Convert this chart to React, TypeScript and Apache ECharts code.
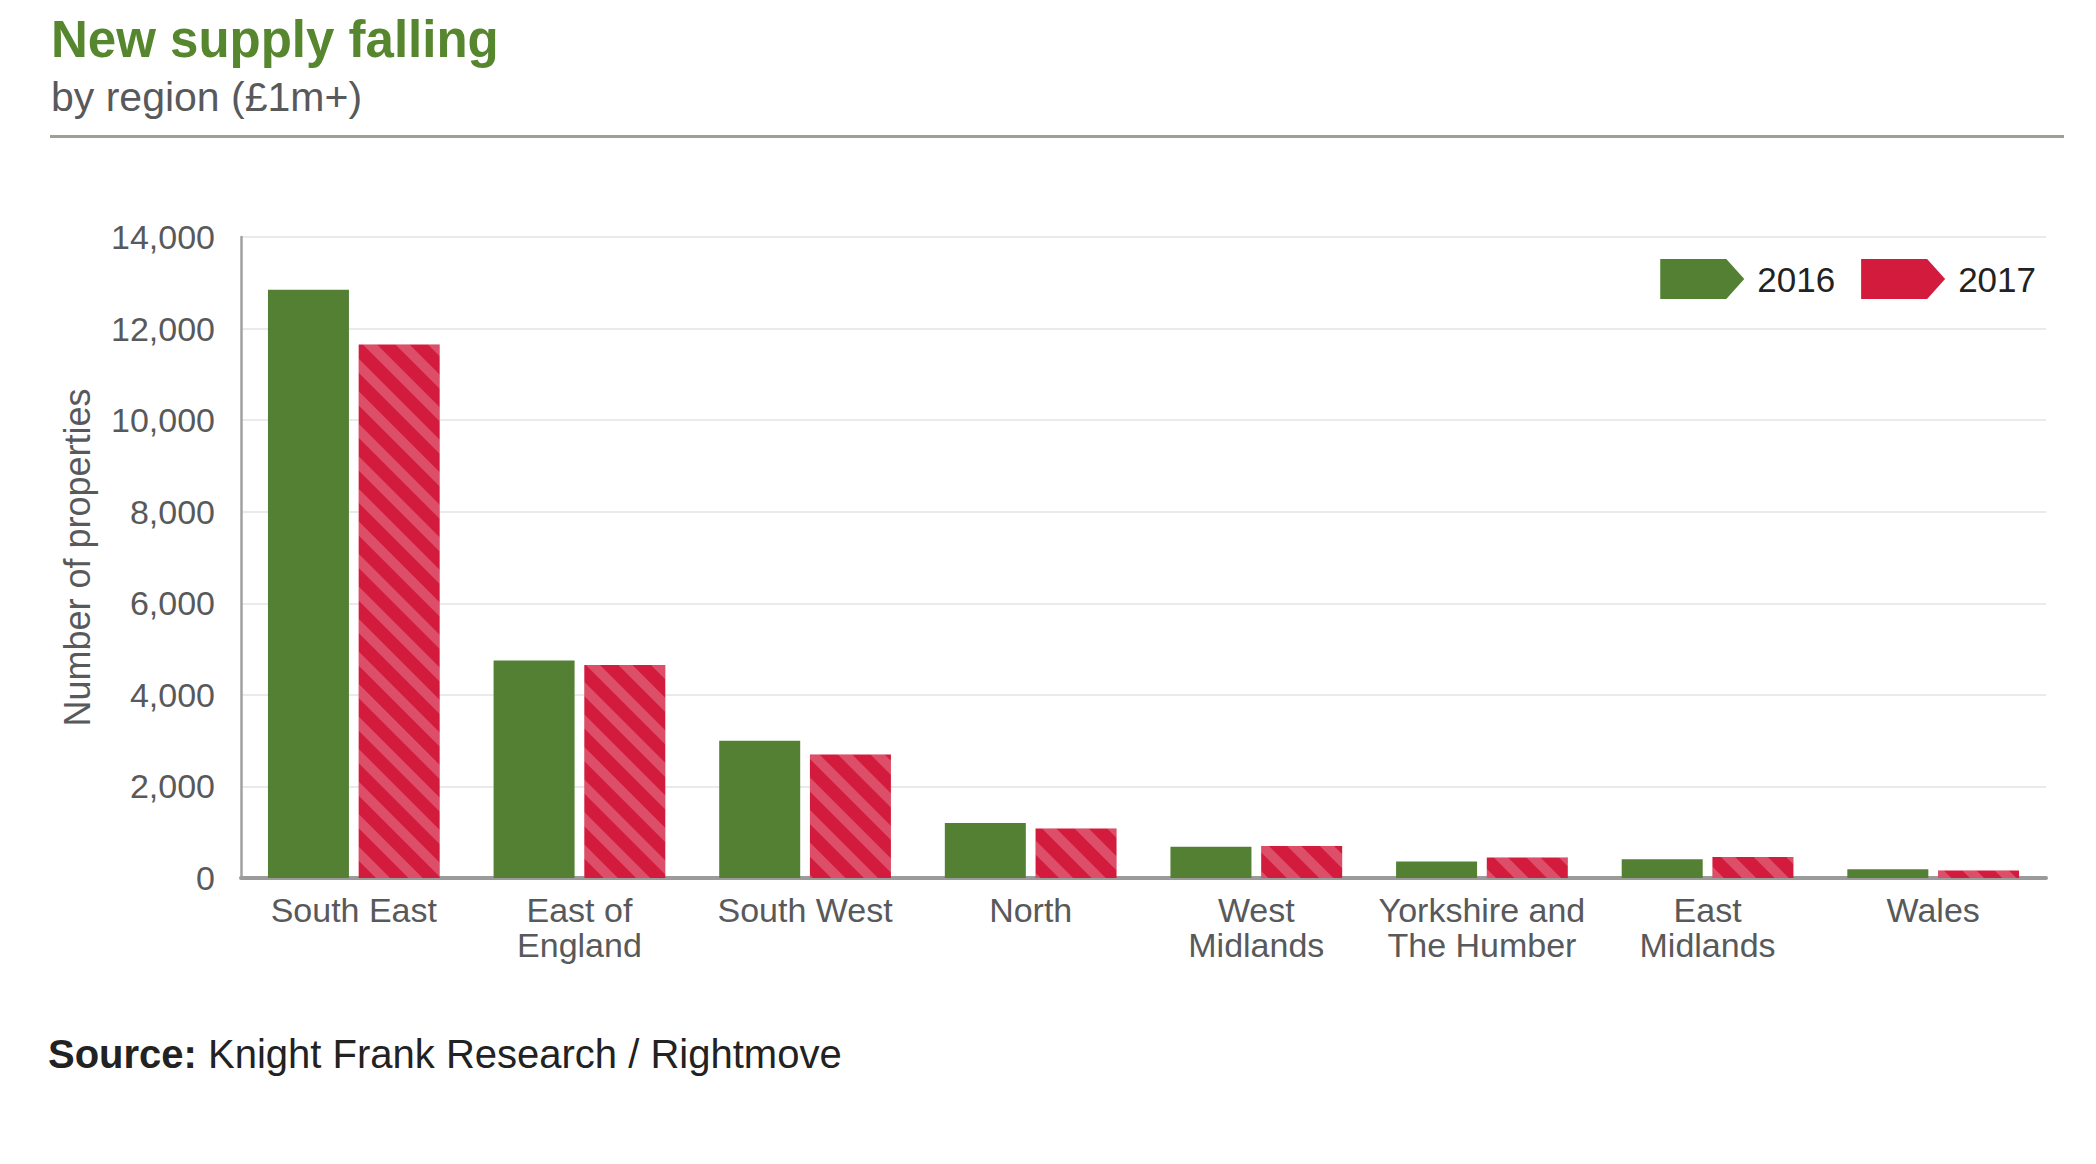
import React, { useEffect, useRef } from "react";
import * as echarts from "echarts";

const categories = [
  "South East",
  "East of\nEngland",
  "South West",
  "North",
  "West\nMidlands",
  "Yorkshire and\nThe Humber",
  "East\nMidlands",
  "Wales",
];
const seriesNames = ["2016", "2017"];
const values2016 = [12850, 4750, 3000, 1200, 680, 360, 410, 190];
const values2017 = [11650, 4650, 2700, 1080, 700, 450, 460, 165];
const yMin = 0;
const yMax = 14000;
const yInterval = 2000;

const titleText = "New supply falling";
const subtitleText = "by region (£1m+)";
const yAxisName = "Number of properties";
const sourceLabel = "Source:";
const sourceText = "Knight Frank Research / Rightmove";

const FONT = '"Liberation Sans", Arial, Helvetica, sans-serif';
const GREEN = "#548034";
const RED = "#D31C3D";
const LABEL = "#58595B";

export default function App() {
  const ref = useRef<HTMLDivElement>(null);
  useEffect(() => {
    if (!ref.current) return;
    const chart = echarts.init(ref.current, null, { renderer: "svg" });
    const option: any = {
      animation: false,
      backgroundColor: "#ffffff",
      textStyle: { fontFamily: FONT },
      grid: { left: 241, right: 50, top: 237, bottom: 286, containLabel: false },
      legend: {
        right: 60,
        top: 259,
        padding: 0,
        itemWidth: 84,
        itemHeight: 40,
        itemGap: 26,
        icon: "path://M0,0 L66,0 L84,20 L66,40 L0,40 Z",
        itemStyle: { decal: "none", borderWidth: 0 },
        textStyle: { color: "#222222", fontSize: 35, fontFamily: FONT, padding: [6, 0, 0, 8] },
        data: seriesNames,
      },
      xAxis: {
        type: "category",
        data: categories,
        axisLine: { show: true, lineStyle: { color: "#9B9B9B", width: 4 } },
        axisTick: { show: false },
        axisLabel: {
          interval: 0,
          margin: 14,
          color: LABEL,
          fontSize: 34,
          lineHeight: 35,
          fontFamily: FONT,
        },
      },
      yAxis: {
        type: "value",
        min: yMin,
        max: yMax,
        interval: yInterval,
        name: yAxisName,
        nameLocation: "middle",
        nameRotate: 90,
        nameGap: 146,
        nameTextStyle: { color: LABEL, fontSize: 36, fontFamily: FONT },
        axisLine: { show: true, lineStyle: { color: "#A0A0A0", width: 2.5 } },
        axisTick: { show: false },
        axisLabel: {
          margin: 26,
          color: LABEL,
          fontSize: 34,
          fontFamily: FONT,
          formatter: (v: number) => v.toLocaleString("en-US"),
        },
        splitLine: { show: true, lineStyle: { color: "#E3E3E3", width: 1.5 } },
      },
      series: [
        {
          name: seriesNames[0],
          type: "bar",
          data: values2016,
          barWidth: 81,
          barGap: "12%",
          itemStyle: { color: GREEN },
        },
        {
          name: seriesNames[1],
          type: "bar",
          data: values2017,
          barWidth: 81,
          barGap: "12%",
          itemStyle: {
            color: RED,
            decal: {
              color: "rgba(255,255,255,0.22)",
              symbol: "rect",
              symbolSize: 1,
              dashArrayX: [1, 0],
              dashArrayY: [10, 13],
              rotation: Math.PI / 4,
            },
          },
        },
      ],
      graphic: [
        {
          type: "text",
          left: 51,
          top: 14,
          style: {
            text: titleText,
            fill: "#56872F",
            font: `bold 51px ${FONT}`,
          },
        },
        {
          type: "text",
          left: 51,
          top: 76,
          style: {
            text: subtitleText,
            fill: "#58595B",
            font: `41px ${FONT}`,
          },
        },
        {
          type: "line",
          shape: { x1: 50, y1: 136.5, x2: 2064, y2: 136.5 },
          style: { stroke: "#A09E96", lineWidth: 3 },
        },
        {
          type: "text",
          left: 48,
          top: 1034,
          style: {
            text: `{b|${sourceLabel}} ${sourceText}`,
            fill: "#222222",
            font: `40px ${FONT}`,
            rich: {
              b: { fontWeight: "bold", fontSize: 40, fontFamily: FONT, fill: "#222222" },
            },
          },
        },
      ],
    };
    chart.setOption(option);
    return () => chart.dispose();
  }, []);
  return (
    <div
      ref={ref}
      style={{ position: "absolute", left: 0, top: 0, width: 2096, height: 1164 }}
    />
  );
}
